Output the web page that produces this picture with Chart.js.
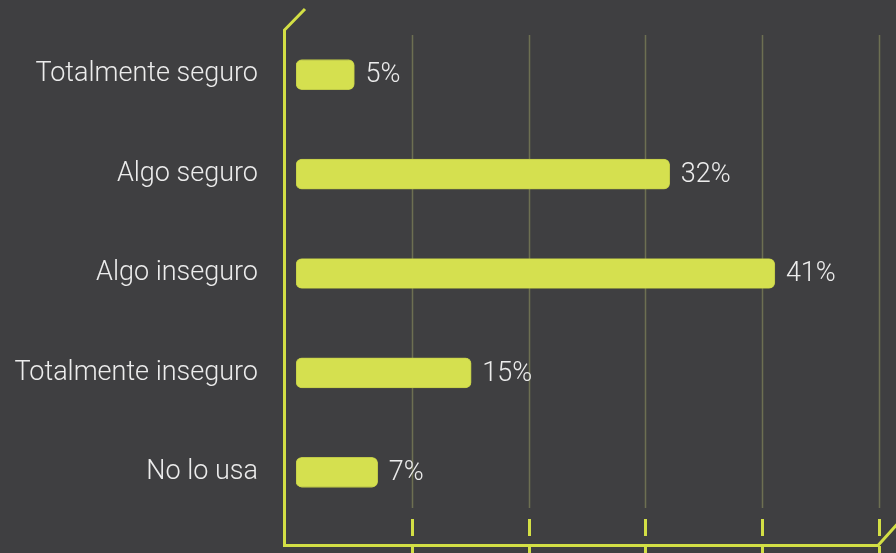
<!DOCTYPE html>
<html>
<head>
<meta charset="utf-8">
<script src="https://cdn.jsdelivr.net/npm/chart.js@4/dist/chart.umd.min.js"></script>
<style>
  html, body { margin: 0; padding: 0; background: #3f3f41; }
  #wrap { width: 896px; height: 553px; position: relative; }
</style>
</head>
<body>
<div id="wrap"><canvas id="c" width="896" height="553"></canvas></div>
<script>
const categories = ["Totalmente seguro", "Algo seguro", "Algo inseguro", "Totalmente inseguro", "No lo usa"];
const values = [5, 32, 41, 15, 7];
const gridTicks = [10, 20, 30, 40, 50];

const BAR = '#d5e04f';
const AXIS = '#d3df45';
const GRID = '#6d6f52';
const TEXT = '#ececec';
const FONT = "300 27px Roboto, 'Open Sans', sans-serif";

const decor = {
  id: 'decor',
  beforeDatasetsDraw(chart) {
    const ctx = chart.ctx;
    const xs = chart.scales.x;
    ctx.save();
    gridTicks.forEach(v => {
      const x = Math.round(xs.getPixelForValue(v)) - 0.5;
      ctx.strokeStyle = GRID;
      ctx.lineWidth = 1.5;
      ctx.beginPath(); ctx.moveTo(x, 35); ctx.lineTo(x, 508); ctx.stroke();
      ctx.strokeStyle = AXIS;
      ctx.lineWidth = 3;
      ctx.beginPath(); ctx.moveTo(x, 519); ctx.lineTo(x, 536); ctx.stroke();
      ctx.beginPath(); ctx.moveTo(x, 546); ctx.lineTo(x, 556); ctx.stroke();
    });
    ctx.strokeStyle = AXIS;
    ctx.lineWidth = 3;
    ctx.lineJoin = 'miter';
    ctx.beginPath();
    ctx.moveTo(305, 9);
    ctx.lineTo(284.5, 30);
    ctx.lineTo(284.5, 545.5);
    ctx.lineTo(878, 545.5);
    ctx.lineTo(900, 521);
    ctx.stroke();
    ctx.restore();
  },
  afterDatasetsDraw(chart) {
    const ctx = chart.ctx;
    const meta = chart.getDatasetMeta(0);
    ctx.save();
    ctx.font = FONT;
    ctx.fillStyle = TEXT;
    ctx.textAlign = 'left';
    ctx.textBaseline = 'middle';
    meta.data.forEach((bar, i) => {
      ctx.fillText(values[i] + '%', bar.x + 11, bar.y + 1);
    });
    ctx.restore();
  }
};

new Chart(document.getElementById('c'), {
  type: 'bar',
  data: {
    labels: categories,
    datasets: [{
      data: values,
      backgroundColor: BAR,
      borderColor: '#b9c346',
      borderWidth: 0.8,
      borderSkipped: false,
      borderRadius: 6,
      barThickness: 30
    }]
  },
  options: {
    indexAxis: 'y',
    responsive: false,
    animation: false,
    layout: { padding: { left: 0, right: 16, top: 25, bottom: 31 } },
    plugins: { legend: { display: false }, tooltip: { enabled: false } },
    scales: {
      x: {
        display: false,
        min: 0,
        max: 50
      },
      y: {
        border: { display: false },
        grid: { display: false, drawTicks: false },
        ticks: {
          color: TEXT,
          padding: 38,
          font: { family: "Roboto, 'Open Sans', sans-serif", size: 27, weight: 300 }
        },
        afterFit(scale) {
          scale.width = 296;
          scale.paddingTop = 0;
          scale.paddingBottom = 0;
        }
      }
    }
  },
  plugins: [decor]
});
</script>
</body>
</html>
